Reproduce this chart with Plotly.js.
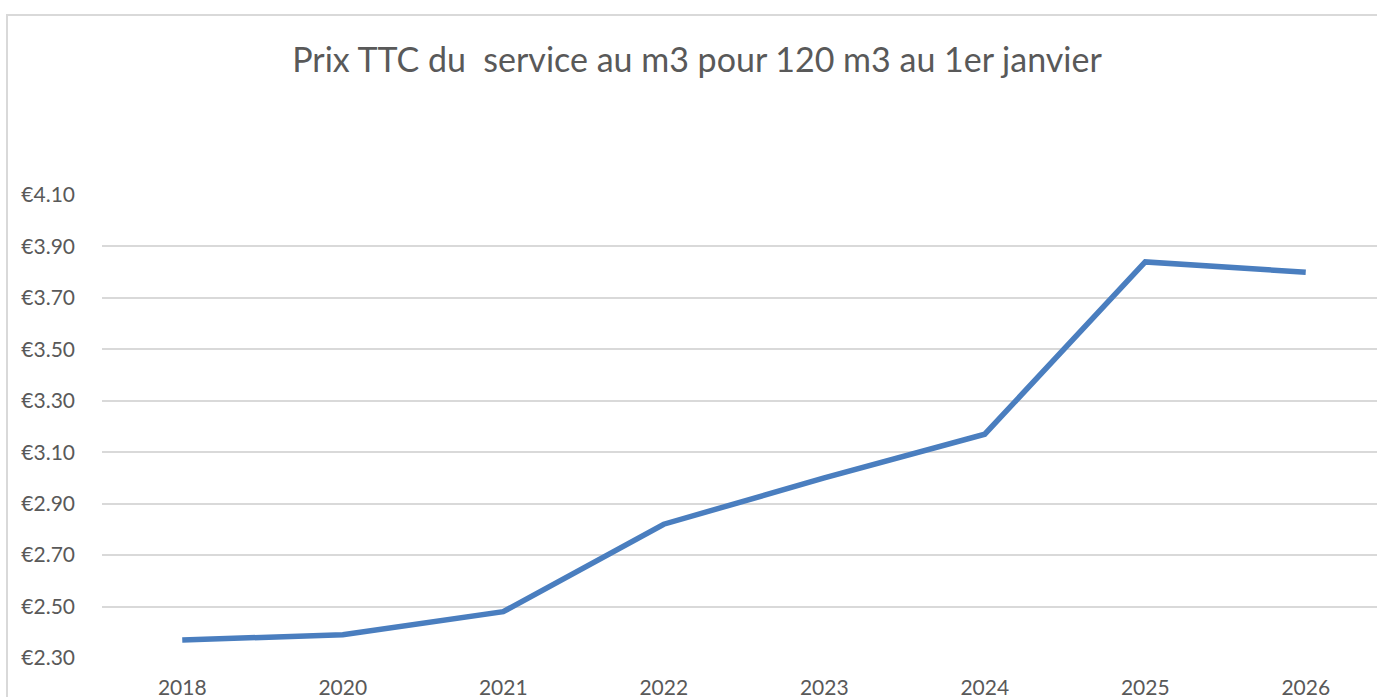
<!DOCTYPE html>
<html>
<head>
<meta charset="utf-8">
<script src="https://cdn.plot.ly/plotly-3.0.1.min.js"></script>
<style>html,body{margin:0;padding:0;background:#fff;}#chart{width:1377px;height:697px;}</style>
</head>
<body>
<div id="chart"></div>
<script>
const years = ["2018", "2020", "2021", "2022", "2023", "2024", "2025", "2026"];
const prices = [2.37, 2.39, 2.48, 2.82, 3.00, 3.17, 3.84, 3.80];
const yTicks = [2.30, 2.50, 2.70, 2.90, 3.10, 3.30, 3.50, 3.70, 3.90, 4.10];
const titleText = "Prix TTC du \u00a0service au m3 pour 120 m3 au 1er janvier";

const gray = "#595959";
const trace = {
  x: years,
  y: prices,
  type: "scatter",
  mode: "lines",
  line: {color: "#4a7ebf", width: 5.5},
  hoverinfo: "skip"
};

const layout = {
  width: 1377,
  height: 697,
  margin: {l: 102, r: 0, t: 195, b: 39, pad: 0},
  paper_bgcolor: "#fff",
  plot_bgcolor: "#fff",
  showlegend: false,
  font: {family: "Lato, 'Open Sans', sans-serif", color: gray},
  title: {
    text: titleText,
    font: {family: "Lato, sans-serif", size: 34, color: gray},
    x: (697 - 102) / 1275, xref: "paper", xanchor: "center",
    y: 1 - 60/697, yref: "container", yanchor: "middle"
  },
  xaxis: {
    type: "category",
    range: [-0.5, 7.444],
    showgrid: false,
    zeroline: false,
    showline: false,
    ticks: "",
    tickfont: {size: 21, color: gray},
    ticklabelstandoff: 15
  },
  yaxis: {
    range: [2.2999, 4.1001],
    tickmode: "array",
    tickvals: yTicks,
    ticktext: yTicks.map(v => "€" + v.toFixed(2)),
    showgrid: true,
    gridcolor: "#d9d9d9",
    gridwidth: 2,
    zeroline: false,
    showline: false,
    ticks: "",
    tickfont: {size: 21, color: gray},
    ticklabelstandoff: 26
  },
  shapes: [{
    type: "rect", xref: "paper", yref: "paper",
    x0: (7 - 102) / 1275, x1: 1.2,
    y0: -0.3, y1: 1 + 180 / 463,
    line: {color: "#d9d9d9", width: 2},
    fillcolor: "rgba(0,0,0,0)",
    layer: "below"
  }]
};

Plotly.newPlot("chart", [trace], layout, {displayModeBar: false, staticPlot: true});
</script>
</body>
</html>
